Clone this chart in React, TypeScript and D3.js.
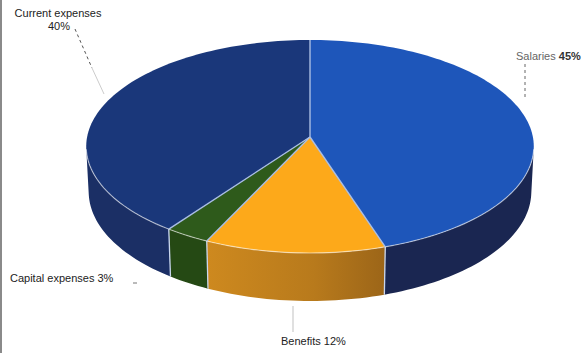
import React from "react";
import * as d3 from "d3";

const categories = ["Salaries", "Benefits", "Capital expenses", "Current expenses"];
const values = [45, 12, 3, 40];
const topColors = ["#1e56ba", "#fda91a", "#2e5a1b", "#1a377a"];
const sideColors = ["#1a2651", "#b87a1c", "#254914", "#1b2f65"];

const W = 582, H = 353;
const cx = 310, cy = 137;
const K = 2200, D = 9.87;
const SIN = 0.474, COS = Math.sqrt(1 - SIN * SIN);
const HGT = 0.232;

function project(X: number, Y: number, Z: number): [number, number] {
  const depth = D - Y * COS - Z * SIN;
  return [cx + (K * X) / depth, cy + (K * (Y * SIN - Z * COS)) / depth];
}
function rim(t: number, z: number) {
  return project(Math.sin(t), -Math.cos(t), z);
}
function arcPts(a0: number, a1: number, z: number) {
  const n = Math.max(2, Math.ceil(((a1 - a0) / (Math.PI * 2)) * 240));
  const pts: [number, number][] = [];
  for (let i = 0; i <= n; i++) pts.push(rim(a0 + ((a1 - a0) * i) / n, z));
  return pts;
}
const line = d3.line();

const Yt = 1 / (D * COS);
const tMin = Math.acos(-Yt);
const tMax = Math.PI * 2 - tMin;

export default function App() {
  const pie = d3.pie<number>().sort(null).startAngle(0).endAngle(Math.PI * 2);
  const arcs = pie(values);
  const apex = project(0, 0, 0);

  const sides = arcs.map((a, i) => {
    const s = Math.max(a.startAngle, tMin);
    const e = Math.min(a.endAngle, tMax);
    if (e <= s) return null;
    const top = arcPts(s, e, 0);
    const bot = arcPts(s, e, -HGT).reverse();
    const d = line([...top, ...bot]) + "Z";
    return <path key={"s" + i} d={d} fill={i === 1 ? "url(#benGrad)" : sideColors[i]} />;
  });

  const edges = arcs
    .map((a) => a.startAngle)
    .filter((t) => t > tMin && t < tMax)
    .map((t, i) => {
      const p0 = rim(t, 0), p1 = rim(t, -HGT);
      return <line key={"e" + i} x1={p0[0]} y1={p0[1]} x2={p1[0]} y2={p1[1]} stroke="#c9d6ee" strokeWidth={1.3} />;
    });

  const tops = arcs.map((a, i) => {
    const pts = arcPts(a.startAngle, a.endAngle, 0);
    const d = line([apex, ...pts]) + "Z";
    return <path key={"t" + i} d={d} fill={topColors[i]} />;
  });

  const seps = arcs.map((a, i) => {
    const p = rim(a.startAngle, 0);
    return <line key={"l" + i} x1={apex[0]} y1={apex[1]} x2={p[0]} y2={p[1]} stroke="#a9bde3" strokeWidth={1.4} />;
  });

  const frontRim = line(arcPts(tMin, tMax, 0)) || "";

  const fs = { fontFamily: "'Liberation Sans', Arial, sans-serif", fontSize: 11 };

  return (
    <svg width={W} height={H} style={{ position: "absolute", left: 0, top: 0, background: "#fff" }}>
      <defs>
        <linearGradient id="benGrad" gradientUnits="userSpaceOnUse" x1={200} x2={390} y1={0} y2={0}>
          <stop offset="0" stopColor="#cf8a1f" />
          <stop offset="0.6" stopColor="#b87a1c" />
          <stop offset="1" stopColor="#9a6418" />
        </linearGradient>
      </defs>
      <rect x={0} y={0} width={2} height={H} fill="#8a8a8a" />
      {sides}
      {edges}
      {tops}
      <path d={frontRim} fill="none" stroke="#ffffff" strokeOpacity={0.55} strokeWidth={1.2} />
      {seps}

      <text x={58} y={17} textAnchor="middle" fill="#222" {...fs}>{categories[3]}</text>
      <text x={59} y={30} textAnchor="middle" fill="#222" {...fs}>{values[3]}%</text>
      <line x1={75} y1={29} x2={92} y2={68} stroke="#555" strokeWidth={1} strokeDasharray="3,3" />
      <line x1={92} y1={68} x2={104} y2={94} stroke="#ccc" strokeWidth={1} />

      <text x={516} y={60} fill="#666" {...fs}>
        {categories[0]} <tspan fontWeight="bold" fill="#333">{values[0]}%</tspan>
      </text>
      <line x1={525} y1={64} x2={525} y2={100} stroke="#666" strokeWidth={1} strokeDasharray="3,3" />

      <text x={10} y={282} fill="#222" {...fs}>{categories[2]} {values[2]}%</text>
      <line x1={133} y1={283} x2={137} y2={283} stroke="#777" strokeWidth={1} />

      <text x={281} y={345} fill="#222" {...fs}>{categories[1]} {values[1]}%</text>
      <line x1={293} y1={306} x2={293} y2={332} stroke="#ccc" strokeWidth={1.2} />
    </svg>
  );
}
